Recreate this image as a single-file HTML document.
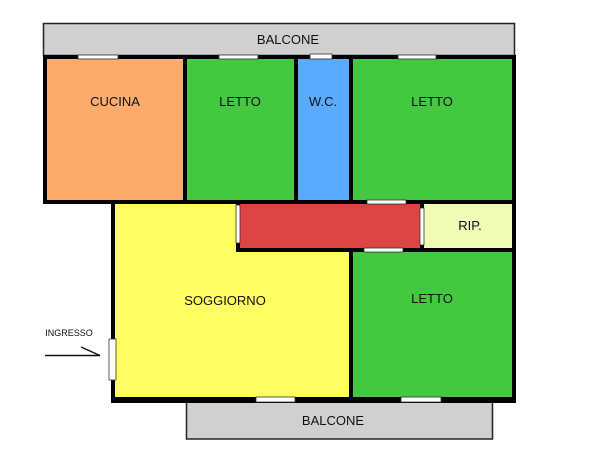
<!DOCTYPE html>
<html><head><meta charset="utf-8"><style>
html,body{margin:0;padding:0;background:#fff;}
svg{display:block;}
text{font-family:"Liberation Sans",sans-serif;font-size:13px;fill:#111;text-anchor:middle;}
</style></head><body>
<svg width="600" height="475" viewBox="0 0 600 475" xmlns="http://www.w3.org/2000/svg">
<!-- balconies -->
<rect x="43.5" y="23.5" width="471" height="32" fill="#d0d0d0" stroke="#222" stroke-width="1.5"/>
<rect x="186.5" y="400" width="306" height="39" fill="#d0d0d0" stroke="#222" stroke-width="1.5"/>
<!-- walls background -->
<rect x="43" y="55" width="473" height="149" fill="#000"/>
<rect x="111" y="200" width="405" height="203" fill="#000"/>
<!-- rooms -->
<rect x="47" y="59" width="136" height="141" fill="#fdab6c"/>
<rect x="187" y="59" width="107" height="141" fill="#45c841"/>
<rect x="298" y="59" width="51" height="141" fill="#5aabff"/>
<rect x="353" y="59" width="159" height="141" fill="#45c841"/>
<rect x="240" y="204" width="180" height="44" fill="#dd4444"/>
<rect x="424" y="204" width="88" height="44" fill="#f0fcb4"/>
<rect x="115" y="204" width="121" height="48" fill="#fffd62"/>
<rect x="115" y="252" width="234" height="145" fill="#fffd62"/>
<rect x="353" y="252" width="159" height="145" fill="#45c841"/>
<!-- windows / doors -->
<g fill="#fff" stroke="#333" stroke-width="0.8">
<rect x="78" y="55" width="40" height="4"/>
<rect x="219" y="55" width="39" height="4"/>
<rect x="310" y="54" width="22" height="5"/>
<rect x="398" y="55" width="38" height="4"/>
<rect x="367" y="200" width="39" height="4"/>
<rect x="364" y="248" width="39" height="4"/>
<rect x="256" y="397" width="39" height="5"/>
<rect x="401" y="397" width="40" height="5"/>
<rect x="109" y="339" width="7" height="41"/>
<rect x="236" y="205" width="4" height="38"/>
<rect x="420" y="208" width="4" height="37"/>
</g>
<!-- arrow -->
<line x1="45" y1="355.5" x2="100" y2="355.5" stroke="#111" stroke-width="1.5"/>
<line x1="81" y1="347" x2="100" y2="355.5" stroke="#111" stroke-width="1.5"/>
<!-- labels -->
<text x="288" y="44">BALCONE</text>
<text x="115" y="106">CUCINA</text>
<text x="240" y="106">LETTO</text>
<text x="323" y="106">W.C.</text>
<text x="432" y="106">LETTO</text>
<text x="470" y="230">RIP.</text>
<text x="225" y="305">SOGGIORNO</text>
<text x="432" y="303">LETTO</text>
<text x="69" y="336" style="font-size:9px">INGRESSO</text>
<text x="333" y="425">BALCONE</text>
</svg>
</body></html>
